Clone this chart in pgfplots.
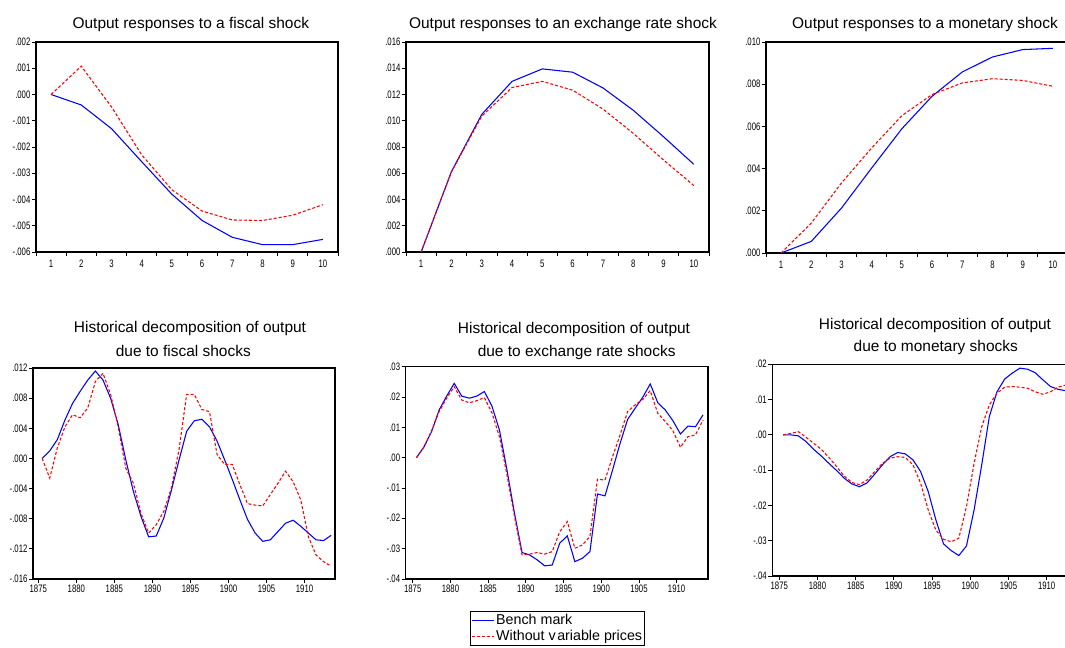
\documentclass[border=0pt]{standalone}
\usepackage{pgfplots}
\pgfplotsset{compat=1.18}
\usepackage{fontspec}
\setmainfont{Liberation Sans}
\newfontfamily\ticknarrow[FakeStretch=0.72]{Liberation Sans}

\pgfplotsset{
  evstyle/.style={
    scale only axis,
    anchor=north west,
    scaled y ticks=false,
    scaled x ticks=false,
    axis line style={line width=1pt, black},
    tick style={line width=0.6pt, black},
    tick align=outside,
    major tick length=3pt,
    minor tick length=3pt,
    xtick pos=left, ytick pos=left,
    ticklabel style={font=\ticknarrow\fontsize{8.1pt}{9pt}\selectfont, inner sep=1pt},
  },
  irf/.style={
    evstyle,
    xmin=0.5, xmax=10.5,
    xtick={1,...,10},
    xticklabels={1,2,3,4,5,6,7,8,9,10},
    major x tick style={draw=none},
    minor xtick={0.5,1.5,...,10.5},
    xticklabel style={yshift=-1.5pt},
  },
  hist/.style={
    evstyle,
    xtick={1875,1880,1885,1890,1895,1900,1905,1910},
    xticklabels={1875,1880,1885,1890,1895,1900,1905,1910},
  },
  bench/.style={blue, line width=0.8pt, no markers},
  novar/.style={red, line width=0.8pt, dash pattern=on 2.25pt off 1.5pt, no markers},
}

\begin{document}
\begin{tikzpicture}
\useasboundingbox (0pt,0pt) rectangle (798.75pt,-486pt);

\tikzset{ttl/.style={anchor=base, inner sep=0pt, font=\fontsize{11.6pt}{13pt}\selectfont}}

% ---------- impulse responses ----------
\node[ttl] at (143.1pt,-21.75pt) {Output responses to a fiscal shock};
\begin{axis}[irf, at={(27pt,-31.5pt)}, width=226.5pt, height=157.5pt,
  ymin=-0.006, ymax=0.002,
  ytick={-0.006,-0.005,-0.004,-0.003,-0.002,-0.001,0,0.001,0.002},
  yticklabels={-.006,-.005,-.004,-.003,-.002,-.001,.000,.001,.002}]
\addplot[bench] coordinates {(1,0) (2,-0.0004) (3,-0.0013) (4,-0.00256) (5,-0.0038) (6,-0.0048) (7,-0.00544) (8,-0.00572) (9,-0.00572) (10,-0.00552)};
\addplot[novar] coordinates {(1,0) (2,0.00108) (3,-0.00047) (4,-0.0023) (5,-0.00363) (6,-0.00444) (7,-0.00478) (8,-0.0048) (9,-0.0046) (10,-0.0042)};
\end{axis}

\node[ttl] at (422.25pt,-21.75pt) {Output responses to an exchange rate shock};
\begin{axis}[irf, at={(304.5pt,-31.5pt)}, width=227.25pt, height=157.5pt,
  ymin=0, ymax=0.016,
  ytick={0,0.002,0.004,0.006,0.008,0.010,0.012,0.014,0.016},
  yticklabels={.000,.002,.004,.006,.008,.010,.012,.014,.016}]
\addplot[bench] coordinates {(1,0) (2,0.00613) (3,0.01048) (4,0.0130) (5,0.01395) (6,0.0137) (7,0.0125) (8,0.0108) (9,0.00878) (10,0.00668)};
\addplot[novar] coordinates {(1,0) (2,0.0061) (3,0.01035) (4,0.01253) (5,0.0130) (6,0.01233) (7,0.01089) (8,0.00904) (9,0.00701) (10,0.00506)};
\end{axis}

\node[ttl] at (693.75pt,-21.75pt) {Output responses to a monetary shock};
\begin{axis}[irf, at={(574.5pt,-31.5pt)}, width=226.5pt, height=158.25pt,
  ymin=0, ymax=0.010,
  ytick={0,0.002,0.004,0.006,0.008,0.010},
  yticklabels={.000,.002,.004,.006,.008,.010}]
\addplot[bench] coordinates {(1,0) (2,0.00055) (3,0.00213) (4,0.00403) (5,0.00589) (6,0.00743) (7,0.00858) (8,0.00929) (9,0.00964) (10,0.0097)};
\addplot[novar] coordinates {(1,0) (2,0.00142) (3,0.00332) (4,0.00498) (5,0.00651) (6,0.00751) (7,0.00806) (8,0.00826) (9,0.00818) (10,0.0079)};
\end{axis}

% ---------- historical decompositions ----------
\node[ttl] at (142.5pt,-249.5pt) {Historical decomposition of output};
\node[ttl] at (137.5pt,-267.2pt) {due to fiscal shocks};
\begin{axis}[hist, at={(24.75pt,-276pt)}, width=226.5pt, height=158.25pt,
  xmin=1874.3, xmax=1914.0,
  ymin=-0.016, ymax=0.012,
  ytick={-0.016,-0.012,-0.008,-0.004,0,0.004,0.008,0.012},
  yticklabels={-.016,-.012,-.008,-.004,.000,.004,.008,.012}]
\addplot[bench] coordinates {
 (1875.5,0) (1876.5,0.0010) (1877.5,0.0025) (1878.5,0.0051) (1879.5,0.0073)
 (1880.5,0.0089) (1881.5,0.0104) (1882.5,0.0116) (1883.5,0.0104) (1884.5,0.0080)
 (1885.5,0.0045) (1886.5,-0.0002) (1887.5,-0.0044) (1888.5,-0.0077) (1889.5,-0.0104)
 (1890.5,-0.0103) (1891.5,-0.0079) (1892.5,-0.0042) (1893.5,-0.0002) (1894.5,0.0036)
 (1895.5,0.0050) (1896.5,0.0052) (1897.5,0.0042) (1898.5,0.0023) (1899.5,-0.0002)
 (1900.5,-0.0028) (1901.5,-0.0055) (1902.5,-0.0081) (1903.5,-0.0099) (1904.5,-0.0110)
 (1905.5,-0.0108) (1906.5,-0.0097) (1907.5,-0.0086) (1908.5,-0.0082) (1909.5,-0.0090)
 (1910.5,-0.0099) (1911.5,-0.0108) (1912.5,-0.0109) (1913.5,-0.0102)};
\addplot[novar] coordinates {
 (1875.5,0) (1876.5,-0.0026) (1877.5,0.0014) (1878.5,0.0042) (1879.5,0.0058)
 (1880.5,0.0054) (1881.5,0.0067) (1882.5,0.0102) (1883.5,0.0113) (1884.5,0.0085)
 (1885.5,0.0042) (1886.5,-0.0013) (1887.5,-0.0033) (1888.5,-0.0073) (1889.5,-0.0099)
 (1890.5,-0.0088) (1891.5,-0.0070) (1892.5,-0.0039) (1893.5,0.0012) (1894.5,0.0085)
 (1895.5,0.0085) (1896.5,0.0065) (1897.5,0.0062) (1898.5,0.0005) (1899.5,-0.0008)
 (1900.5,-0.0008) (1901.5,-0.0035) (1902.5,-0.0060) (1903.5,-0.0062) (1904.5,-0.0063)
 (1905.5,-0.0048) (1906.5,-0.0033) (1907.5,-0.0017) (1908.5,-0.0031) (1909.5,-0.0055)
 (1910.5,-0.0104) (1911.5,-0.0128) (1912.5,-0.0137) (1913.5,-0.0143)};
\end{axis}

\node[ttl] at (430.5pt,-250.3pt) {Historical decomposition of output};
\node[ttl] at (432.5pt,-267.2pt) {due to exchange rate shocks};
\begin{axis}[hist, at={(304.3pt,-275pt)}, width=226.7pt, height=159.2pt,
  xmin=1874.07, xmax=1914.16,
  ymin=-0.04, ymax=0.03,
  ytick={-0.04,-0.03,-0.02,-0.01,0,0.01,0.02,0.03},
  yticklabels={-.04,-.03,-.02,-.01,.00,.01,.02,.03},
  legend entries={Bench mark, Without v\kern1.2pt ariable prices},
  legend style={at={(0.2127,-0.152)}, anchor=north west, draw=black, line width=0.7pt,
    font=\fontsize{10.7pt}{12pt}\selectfont, inner sep=1pt, row sep=1pt,
    nodes={inner sep=1pt}},
  legend cell align=left,
  legend image code/.code={\draw[#1] (0pt,0pt) -- (16.5pt,0pt);}]
\addplot[bench] coordinates {
 (1875.5,0) (1876.5,0.0036) (1877.5,0.0086) (1878.5,0.0157) (1879.5,0.0203)
 (1880.5,0.0245) (1881.5,0.0203) (1882.5,0.0196) (1883.5,0.0203) (1884.5,0.0218)
 (1885.5,0.0170) (1886.5,0.0091) (1887.5,-0.0041) (1888.5,-0.0184) (1889.5,-0.0313)
 (1890.5,-0.0321) (1891.5,-0.0337) (1892.5,-0.0357) (1893.5,-0.0354) (1894.5,-0.0282)
 (1895.5,-0.0258) (1896.5,-0.0343) (1897.5,-0.0332) (1898.5,-0.0310) (1899.5,-0.0120)
 (1900.5,-0.0126) (1901.5,-0.0041) (1902.5,0.0047) (1903.5,0.0126) (1904.5,0.0163)
 (1905.5,0.0199) (1906.5,0.0243) (1907.5,0.0181) (1908.5,0.0157) (1909.5,0.0122)
 (1910.5,0.0078) (1911.5,0.0104) (1912.5,0.0102) (1913.5,0.0141)};
\addplot[novar] coordinates {
 (1875.5,0) (1876.5,0.0035) (1877.5,0.0089) (1878.5,0.0152) (1879.5,0.0196)
 (1880.5,0.0234) (1881.5,0.0190) (1882.5,0.0181) (1883.5,0.0188) (1884.5,0.0198)
 (1885.5,0.0148) (1886.5,0.0069) (1887.5,-0.0057) (1888.5,-0.0195) (1889.5,-0.0321)
 (1890.5,-0.0318) (1891.5,-0.0313) (1892.5,-0.0318) (1893.5,-0.0310) (1894.5,-0.0244)
 (1895.5,-0.0211) (1896.5,-0.0299) (1897.5,-0.0288) (1898.5,-0.0260) (1899.5,-0.0071)
 (1900.5,-0.0074) (1901.5,0.0003) (1902.5,0.0075) (1903.5,0.0152) (1904.5,0.0174)
 (1905.5,0.0192) (1906.5,0.0221) (1907.5,0.0146) (1908.5,0.0119) (1909.5,0.0089)
 (1910.5,0.0034) (1911.5,0.0069) (1912.5,0.0075) (1913.5,0.0124)};
\end{axis}

\node[ttl] at (701.25pt,-247.5pt) {Historical decomposition of output};
\node[ttl] at (701.85pt,-263.8pt) {due to monetary shocks};
\begin{axis}[hist, at={(579.2pt,-273.2pt)}, width=226.7pt, height=158.8pt,
  xmin=1874.08, xmax=1913.65,
  ymin=-0.04, ymax=0.02,
  ytick={-0.04,-0.03,-0.02,-0.01,0,0.01,0.02},
  yticklabels={-.04,-.03,-.02,-.01,.00,.01,.02}]
\addplot[bench] coordinates {
 (1875.5,0) (1876.5,0) (1877.5,-0.0003) (1878.5,-0.0019) (1879.5,-0.0041)
 (1880.5,-0.0060) (1881.5,-0.0081) (1882.5,-0.0101) (1883.5,-0.0123) (1884.5,-0.0139)
 (1885.5,-0.0147) (1886.5,-0.0136) (1887.5,-0.0111) (1888.5,-0.0085) (1889.5,-0.0062)
 (1890.5,-0.0050) (1891.5,-0.0054) (1892.5,-0.0071) (1893.5,-0.0104) (1894.5,-0.0161)
 (1895.5,-0.0241) (1896.5,-0.0309) (1897.5,-0.0328) (1898.5,-0.0342) (1899.5,-0.0315)
 (1900.5,-0.0213) (1901.5,-0.0085) (1902.5,0.0052) (1903.5,0.0122) (1904.5,0.0158)
 (1905.5,0.0175) (1906.5,0.0189) (1907.5,0.0186) (1908.5,0.0176) (1909.5,0.0156)
 (1910.5,0.0137) (1911.5,0.0129) (1912.5,0.0125)};
\addplot[novar] coordinates {
 (1875.5,0) (1876.5,0.0004) (1877.5,0.0009) (1878.5,-0.0007) (1879.5,-0.0024)
 (1880.5,-0.0041) (1881.5,-0.0064) (1882.5,-0.0090) (1883.5,-0.0117) (1884.5,-0.0135)
 (1885.5,-0.0141) (1886.5,-0.0128) (1887.5,-0.0104) (1888.5,-0.0081) (1889.5,-0.0066)
 (1890.5,-0.0062) (1891.5,-0.0064) (1892.5,-0.0085) (1893.5,-0.0137) (1894.5,-0.0213)
 (1895.5,-0.0270) (1896.5,-0.0296) (1897.5,-0.0303) (1898.5,-0.0293) (1899.5,-0.0204)
 (1900.5,-0.0081) (1901.5,0.0023) (1902.5,0.0085) (1903.5,0.0118) (1904.5,0.0135)
 (1905.5,0.0137) (1906.5,0.0135) (1907.5,0.0132) (1908.5,0.0122) (1909.5,0.0115)
 (1910.5,0.0122) (1911.5,0.0135) (1912.5,0.0141)};
\end{axis}
\end{tikzpicture}
\end{document}
